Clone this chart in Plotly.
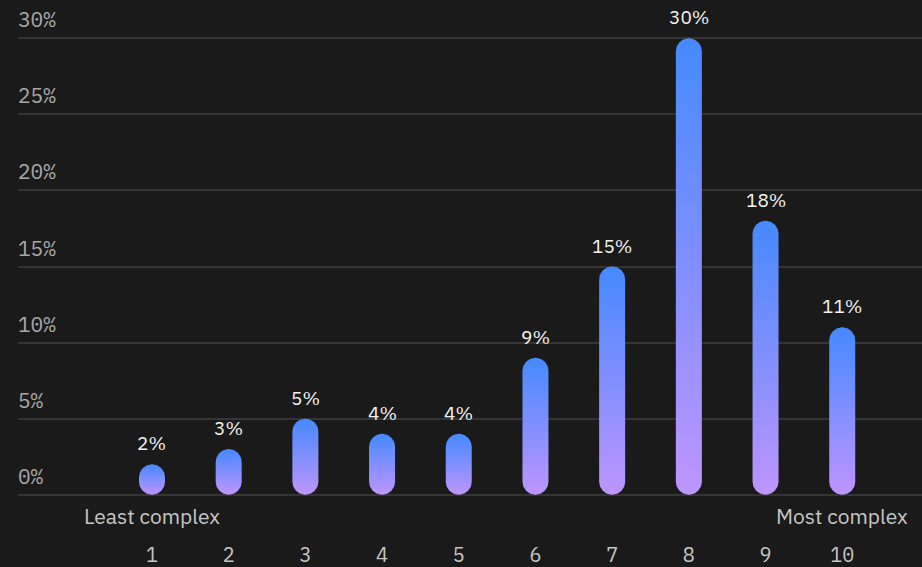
import plotly.graph_objects as go
import numpy as np

# ---- data ----
categories = [1, 2, 3, 4, 5, 6, 7, 8, 9, 10]
shares = [2, 3, 5, 4, 4, 9, 15, 30, 18, 11]
y_ticks = [0, 5, 10, 15, 20, 25, 30]
y_tick_labels = [f"{t}%" for t in y_ticks]
end_labels = ["Least complex", "Most complex"]

# ---- layout constants ----
W, H = 922, 567
ML, MR = 18, 0
Y0_PX, Y30_PX = 495, 38          # pixel rows for 0% and 30%
PAD = 0.15                       # small range padding so edge gridlines render
X_RANGE = [-0.747, 11.04]
Y_RANGE = [0 - PAD, 30 + PAD]
BAR_PX = 26

px_per_y = (Y0_PX - Y30_PX) / 30
MT = Y30_PX - PAD * px_per_y
MB = (H - Y0_PX) - PAD * px_per_y

BG = "#1a1a1a"
GRID = "#353535"
BLUE = "#4589ff"
PURPLE = "#be95ff"
MONO = "IBM Plex Mono, DejaVu Sans Mono, monospace"
SANS = "IBM Plex Sans, Noto Sans, sans-serif"

px_per_x = (W - ML - MR) / (X_RANGE[1] - X_RANGE[0])
rx = (BAR_PX / 2) / px_per_x
ry = (BAR_PX / 2) / px_per_y

fig = go.Figure()

for c, v in zip(categories, shares):
    top_c = v - ry
    bot_c = min(ry, top_c)
    t1 = np.linspace(0, np.pi, 40)
    t2 = np.linspace(np.pi, 2 * np.pi, 40)
    xs = np.concatenate([c + rx * np.cos(t1), c + rx * np.cos(t2)])
    ys = np.concatenate([top_c + ry * np.sin(t1), bot_c + ry * np.sin(t2)])
    xs = np.append(xs, xs[0])
    ys = np.append(ys, ys[0])
    fig.add_trace(go.Scatter(
        x=xs, y=ys, mode="lines", fill="toself",
        line=dict(width=0, color=BLUE),
        fillgradient=dict(type="vertical", colorscale=[[0, PURPLE], [1, BLUE]]),
        hoverinfo="skip", showlegend=False, cliponaxis=False,
    ))

annotations = []
for c, v in zip(categories, shares):
    annotations.append(dict(
        x=c, y=v, xref="x", yref="y", text=f"{v}%", showarrow=False,
        yanchor="bottom", yshift=7,
        font=dict(family=SANS, size=19, color="#f4f4f4"),
    ))
for t, lab in zip(y_ticks, y_tick_labels):
    annotations.append(dict(
        x=0, y=t, xref="paper", yref="y", text=lab, showarrow=False,
        xanchor="left", yanchor="bottom", yshift=3, xshift=-2,
        font=dict(family=MONO, size=21, color="#a8a8a8"),
    ))
for c, lab in zip([categories[0], categories[-1]], end_labels):
    annotations.append(dict(
        x=c, y=0, xref="x", yref="y", text=lab, showarrow=False,
        yanchor="top", yshift=-5,
        font=dict(family=SANS, size=21, color="#c6c6c6"),
    ))

fig.update_layout(
    width=W, height=H,
    margin=dict(l=ML, r=MR, t=MT, b=MB),
    paper_bgcolor=BG, plot_bgcolor=BG,
    annotations=annotations,
    xaxis=dict(
        range=X_RANGE, tickvals=categories, ticktext=[str(c) for c in categories],
        showgrid=False, zeroline=False, showline=False, ticks="",
        tickfont=dict(family=MONO, size=20, color="#c6c6c6"),
        ticklabelstandoff=44, fixedrange=True, automargin=False,
    ),
    yaxis=dict(
        range=Y_RANGE, tickvals=y_ticks, showticklabels=False,
        showgrid=True, gridcolor=GRID, gridwidth=2,
        zeroline=False, showline=False, fixedrange=True, automargin=False,
    ),
)

fig.write_html("out.html")
